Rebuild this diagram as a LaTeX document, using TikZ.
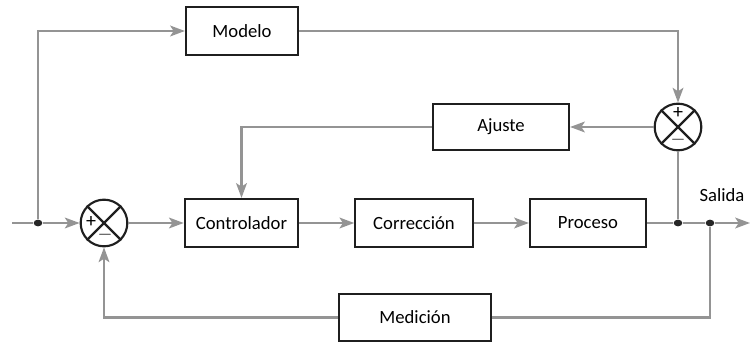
\documentclass[tikz,border=0pt]{standalone}
\usepackage{fontspec}
\setmainfont{Carlito}
\usetikzlibrary{arrows.meta,shapes.geometric}

\tikzset{
  blok/.style={draw=black!88, line width=1.6pt, minimum height=36pt, inner sep=0pt, font=\fontsize{14}{16}\selectfont},
  sumcirc/.style={draw=black!88, line width=1.6pt, circle, minimum size=35pt, inner sep=0pt},
  sgn/.style={inner sep=0pt, font=\fontsize{15}{15}\selectfont},
  junc/.style={ellipse, fill=black!85, minimum width=6.5pt, minimum height=5pt, inner sep=0pt},
  lnk/.style={draw=black!42, line width=1.8pt},
  arr/.style={lnk, -{Stealth[length=11pt,width=8pt,inset=2.5pt]}},
}

\begin{document}
\begin{tikzpicture}[x=0.75pt,y=-0.75pt]
        \useasboundingbox (0,0) rectangle (750,342);
        % blocks
        \node[blok, minimum width=84pt]  (modelo) at (242,31)    {Modelo};
        \node[blok, minimum width=85pt]  (ctrl)   at (241.5,223) {Controlador};
        \node[blok, minimum width=88pt]  (corr)   at (414,223)   {Corrección};
        \node[blok, minimum width=87pt]  (proc)   at (588,223)   {Proceso};
        \node[blok, minimum width=102pt, minimum height=35pt] (ajuste) at (501,127) {Ajuste};
        \node[blok, minimum width=114pt, minimum height=35pt] (medic)  at (415,317.5) {Medición};
        % summing points
        \node[sumcirc] (s1) at (104,223) {};
        \node[sumcirc] (s2) at (678,127) {};
        \draw[black!88, line width=1.6pt] (s1.north west) -- (s1.south east) (s1.north east) -- (s1.south west);
        \draw[black!88, line width=1.6pt] (s2.north west) -- (s2.south east) (s2.north east) -- (s2.south west);
        \node[sgn] (s1p) at (91,222)  {+};
        \node[sgn] (s1m) at (105,235) {$-$};
        \node[sgn] (s2p) at (678,113) {+};
        \node[sgn] (s2m) at (678,140) {$-$};
        % junctions and ends
        \coordinate (inp) at (12,223);
        \coordinate (out) at (750,223);
        \node[junc] (j1) at (38,223)  {};
        \node[junc] (j2) at (678,223) {};
        \node[junc] (j3) at (710,223) {};
        \node[font=\fontsize{14}{16}\selectfont] (salida) at (722,195) {Salida};
        % connectors
        \draw[lnk] (inp) -- (j1);
        \draw[arr] (j1) -- (s1);
        \draw[arr] (j1) |- (modelo);
        \draw[arr] (s1) -- (ctrl);
        \draw[arr] (ctrl) -- (corr);
        \draw[arr] (corr) -- (proc);
        \draw[lnk] (proc) -- (j2);
        \draw[lnk] (j2) -- (j3);
        \draw[arr] (j3) -- (out);
        \draw[arr] (modelo) -| (s2);
        \draw[lnk] (s2) -- (j2);
        \draw[arr] (s2) -- (ajuste);
        \draw[arr] (ajuste.west) -| (ctrl.north);
        \draw[lnk] (j3) |- (medic);
        \draw[arr] (medic) -| (s1);
\end{tikzpicture}
\end{document}
